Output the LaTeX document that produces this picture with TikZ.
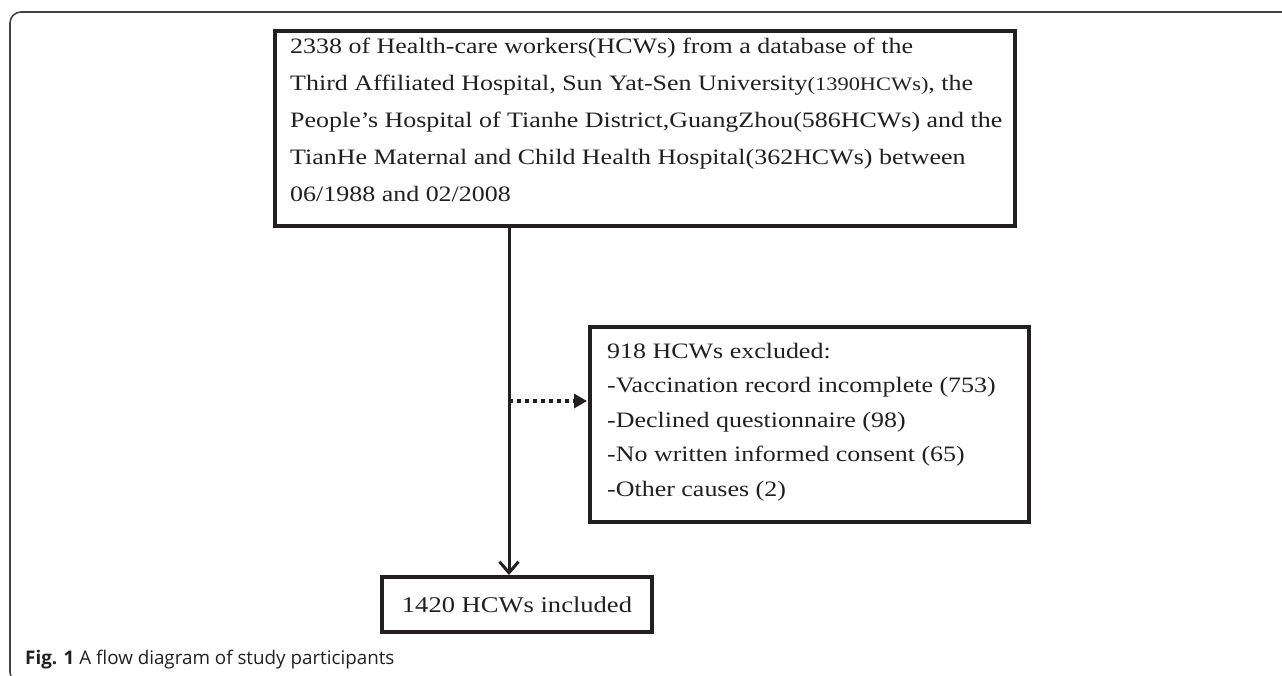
\documentclass[tikz,border=0pt]{standalone}
\usepackage{fontspec}
\setmainfont{Liberation Serif}[FakeStretch=1.18]
\newfontfamily\capfont{Open Sans}
\usetikzlibrary{arrows.meta}
\definecolor{ink}{HTML}{231F20}
\tikzset{
  boxstyle/.style={draw=ink, line width=4pt, inner sep=0pt, text=ink,
    font=\fontsize{22.5}{28}\selectfont},
  txtstyle/.style={inner sep=0pt, text=ink, align=left, anchor=north west},
  framestyle/.style={draw=ink!85, line width=1.6pt, rounded corners=11pt},
  mainarrow/.style={draw=ink, line width=3pt,
    -{Straight Barb[length=11pt,width=19pt,line width=3pt]}},
  dotarrow/.style={draw=ink, line width=4pt, dash pattern=on 4pt off 4pt,
    -{Triangle[length=13pt,width=14pt]}, shorten >=1pt},
}
\begin{document}
\begin{tikzpicture}[x=1pt,y=-1pt]
\useasboundingbox (0,0) rectangle (1282,675);
% outer frame
\draw[framestyle] (1300,12) -- (10,12) -- (10,683) -- (1300,683);
% boxes
\node[boxstyle, anchor=north west, minimum width=740pt, minimum height=195pt] (top) at (273,29) {};
\node[boxstyle, anchor=north west, minimum width=439pt, minimum height=195pt] (excl) at (588,325) {};
\node[boxstyle, anchor=north west, minimum width=270pt, minimum height=55pt] (incl) at (380,575)
 {1420 HCWs included};
% box texts
\node[txtstyle, font=\fontsize{22}{37}\selectfont] (toptxt) at ([xshift=17pt,yshift=-9pt]top.north west)
 {2338 of Health-care workers(HCWs) from a database of the\\
  Third Affiliated Hospital, Sun Yat-Sen University{\fontsize{19}{37}\selectfont(1390HCWs)}, the\\
  People’s Hospital of Tianhe District,GuangZhou(586HCWs) and the\\
  TianHe Maternal and Child Health Hospital(362HCWs) between\\
  06/1988 and 02/2008};
\node[txtstyle, font=\fontsize{22}{34.5}\selectfont] (excltxt) at ([xshift=19pt,yshift=-18pt]excl.north west)
 {918 HCWs excluded:\\
  -Vaccination record incomplete (753)\\
  -Declined questionnaire (98)\\
  -No written informed consent (65)\\
  -Other causes (2)};
% connectors
\coordinate (ax) at (509,0);
\coordinate (dy) at (0,401);
\draw[mainarrow] (top.south -| ax) -- (incl.north -| ax);
\draw[dotarrow] (ax |- dy) -- (excl.west |- dy);
% caption
\node[anchor=base west, inner sep=0pt, text=ink, font=\capfont\fontsize{18.8}{22}\selectfont] (cap) at (25,664)
 {\textbf{Fig. 1} A flow diagram of study participants};
\end{tikzpicture}
\end{document}
